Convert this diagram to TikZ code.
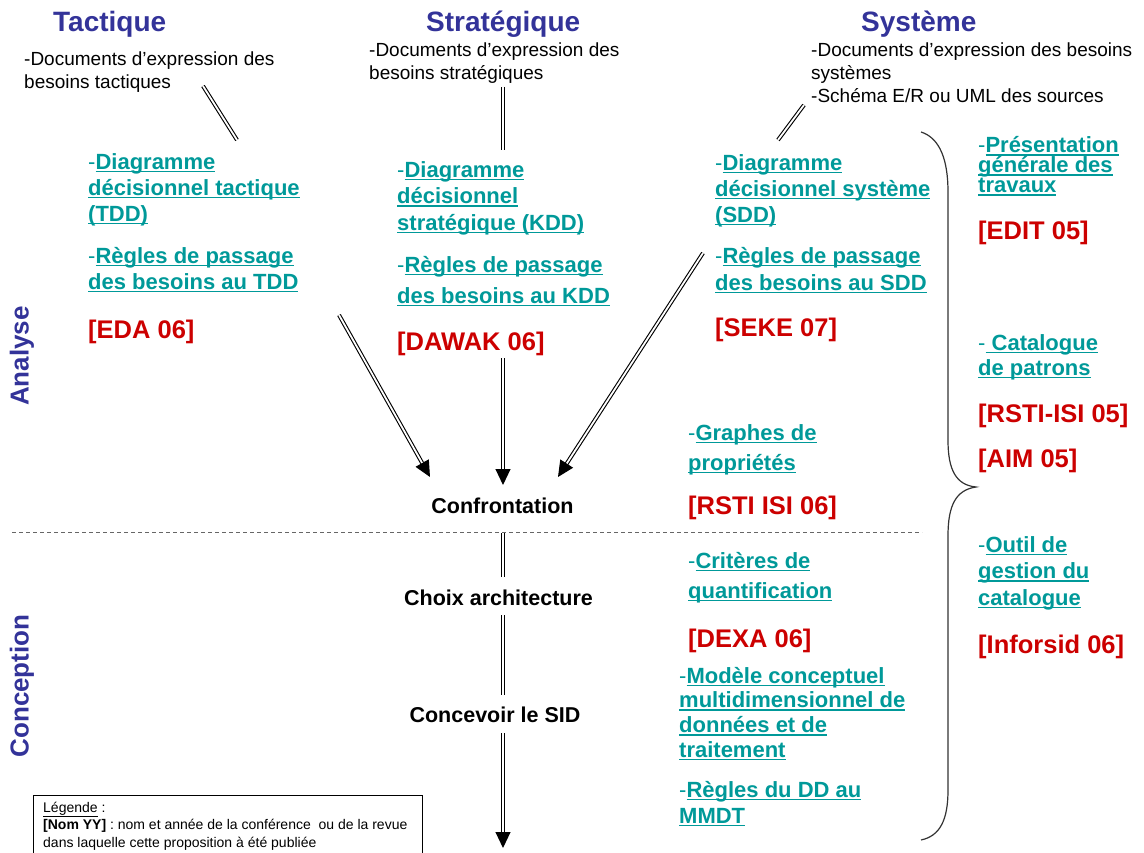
\documentclass[tikz,border=0pt]{standalone}
\usepackage{fontspec}
\setmainfont{Liberation Sans}
\usetikzlibrary{arrows.meta}
\definecolor{hdrblue}{RGB}{51,51,153}
\definecolor{itemteal}{RGB}{0,153,153}
\definecolor{refred}{RGB}{204,0,0}
\newsavebox\ulbx
\newcommand{\uln}[1]{\sbox\ulbx{#1}\rlap{\rule[-3pt]{\wd\ulbx}{1.6pt}}\usebox\ulbx}
\newcommand{\dsh}{{\mdseries -}}
\lineskiplimit=-30pt\relax
\tikzset{hdrtxt/.style = {anchor=base west, inner sep=0, text=hdrblue,
                          font=\fontsize{28}{32}\selectfont\bfseries}}
\tikzset{doctxt/.style = {anchor=north west, inner sep=0, align=left,
                          font=\fontsize{19}{23}\selectfont}}
\tikzset{ittxt/.style = {anchor=north west, inner sep=0, align=left, text=itemteal,
                         font=\fontsize{22}{#1}\selectfont\bfseries}}
\tikzset{reftxt/.style = {anchor=base west, inner sep=0, text=refred,
                          font=\fontsize{25.5}{30}\selectfont\bfseries}}
\tikzset{steptxt/.style = {anchor=base, inner sep=0, font=\fontsize{21.5}{25}\selectfont\bfseries}}
\tikzset{phasetxt/.style = {rotate=90, inner sep=0, text=hdrblue,
                            font=\fontsize{26}{30}\selectfont\bfseries}}
\tikzset{legtxt/.style = {anchor=north west, inner sep=0, align=left,
                          font=\fontsize{14}{17.5}\selectfont}}
\tikzset{dblline/.style = {draw=black, double=white, double distance=1.8pt, line width=1.1pt}}
\tikzset{dblarrow/.style = {dblline, -{Triangle[length=16pt,width=15pt]}}}

\begin{document}
\begin{tikzpicture}[x=1pt, y=-1pt]
    \useasboundingbox (0,0) rectangle (1144,853);

    % column titles
    \node [hdrtxt] (tac) at (53,32) {Tactique};
    \node [hdrtxt] (str) at (426,32) {Stratégique};
    \node [hdrtxt] (sys) at (861,32) {Système};

    % input documents
    \node [doctxt] (tdoc) at (24,48.9) {\strut-Documents d’expression des\\besoins tactiques};
    \node [doctxt] (kdoc) at (369,39.9) {\strut-Documents d’expression des\\besoins stratégiques};
    \node [doctxt] (sdoc) at (811,39.9) {\strut-Documents d’expression des besoins\\systèmes\\-Schéma E/R ou UML des sources};

    % analysis contributions
    \node [ittxt=26] (tdd) at (88,150.8) {\strut\dsh\uln{Diagramme}\\\uln{décisionnel tactique}\\\uln{(TDD)}};
    \node [ittxt=26] (trul) at (88,244.8) {\strut\dsh\uln{Règles de passage}\\\uln{des besoins au TDD}};
    \node [reftxt] (eda) at (88,338) {[EDA 06]};

    \node [ittxt=26.5] (kdd) at (397,158.5) {\strut\dsh\uln{Diagramme}\\\uln{décisionnel}\\\uln{stratégique (KDD)}};
    \node [ittxt=31] (krul) at (397,250.3) {\strut\dsh\uln{Règles de passage}\\\uln{des besoins au KDD}};
    \node [reftxt] (dawak) at (397,350) {[DAWAK 06]};

    \node [ittxt=26] (sdd) at (715,151.8) {\strut\dsh\uln{Diagramme}\\\uln{décisionnel système}\\\uln{(SDD)}};
    \node [ittxt=27] (srul) at (715,244.1) {\strut\dsh\uln{Règles de passage}\\\uln{des besoins au SDD}};
    \node [reftxt] (seke) at (715,337) {[SEKE 07]};

    \node [ittxt=20] (pres) at (978,136.5) {\dsh\uln{Présentation}\\\uln{générale des}\\\uln{travaux}};
    \node [reftxt] (edit) at (978,240) {[EDIT 05]};
    \node [ittxt=25] (cat) at (978,332.5) {\strut\dsh\uln{\ Catalogue}\\\uln{de patrons}};
    \node [reftxt] (rsti05) at (978,422) {[RSTI-ISI 05]};
    \node [reftxt] (aim) at (978,467) {[AIM 05]};

    \node [ittxt=30] (graph) at (688,419) {\strut\dsh\uln{Graphes de}\\\uln{propriétés}};
    \node [reftxt] (rsti06) at (688,514) {[RSTI ISI 06]};

    % design contributions
    \node [ittxt=30] (crit) at (688,547) {\strut\dsh\uln{Critères de}\\\uln{quantification}};
    \node [reftxt] (dexa) at (688,647) {[DEXA 06]};
    \node [ittxt=24.7] (mmdt) at (679,665.7) {\strut\dsh\uln{Modèle conceptuel}\\\uln{multidimensionnel de}\\\uln{données et de}\\\uln{traitement}};
    \node [ittxt=26] (rdd) at (679,778.8) {\strut\dsh\uln{Règles du DD au}\\\uln{MMDT}};
    \node [ittxt=26.5] (outil) at (978,533.5) {\strut\dsh\uln{Outil de}\\\uln{gestion du}\\\uln{catalogue}};
    \node [reftxt] (infor) at (978,653) {[Inforsid 06]};

    % process steps
    \node [steptxt] (conf) at (502.5,513) {Confrontation};
    \node [steptxt] (choix) at (498.5,605) {Choix architecture};
    \node [steptxt] (conc) at (495,722) {Concevoir le SID};

    % phases
    \node [phasetxt] (ana) at (22,356) {Analyse};
    \node [phasetxt] (concp) at (22,686) {Conception};

    % connector ends
    \coordinate (t1a) at (203,86);   \coordinate (t1b) at (237,140);
    \coordinate (t2a) at (339,315);  \coordinate (t2b) at (430,477);
    \coordinate (k1a) at (503,87);   \coordinate (k1b) at (503,150);
    \coordinate (k2a) at (503,358);  \coordinate (k2b) at (503,485);
    \coordinate (s1a) at (804,105);  \coordinate (s1b) at (778,140);
    \coordinate (s2a) at (703,253);  \coordinate (s2b) at (558,477);
    \coordinate (b1a) at (503,533);  \coordinate (b1b) at (503,577);
    \coordinate (b2a) at (503,615);  \coordinate (b2b) at (503,695);
    \coordinate (b3a) at (503,733);  \coordinate (b3b) at (503,848);
    \coordinate (sepl) at (12,532);  \coordinate (sepr) at (922,532);

    \draw [dblline] (t1a) -- (t1b);
    \draw [dblarrow] (t2a) -- (t2b);
    \draw [dblline] (k1a) -- (k1b);
    \draw [dblarrow] (k2a) -- (k2b);
    \draw [dblline] (s1a) -- (s1b);
    \draw [dblarrow] (s2a) -- (s2b);
    \draw [dblline] (b1a) -- (b1b);
    \draw [dblline] (b2a) -- (b2b);
    \draw [dblarrow] (b3a) -- (b3b);

    % phase separator
    \draw [gray!80!black, line width=1pt, dash pattern=on 4pt off 3pt] (sepl) -- (sepr);

    % brace
    \draw [black!80, line width=1.2pt]
        (921,132) .. controls (940,138) and (948,160) .. (948,192) -- (948,440)
        .. controls (948,470) and (956,485) .. (976,487)
        .. controls (956,490) and (948,505) .. (948,536) -- (948,790)
        .. controls (948,820) and (940,836) .. (921,840);

    % legend
    \draw [line width=0.8pt] (33,795) rectangle (422,870);
    \node [legtxt] (leg) at (43,799.75) {\strut\underline{Légende} :\\\textbf{[Nom YY]} : nom et année de la conférence\ \ ou de la revue\\dans laquelle cette proposition à été publiée};
\end{tikzpicture}
\end{document}
